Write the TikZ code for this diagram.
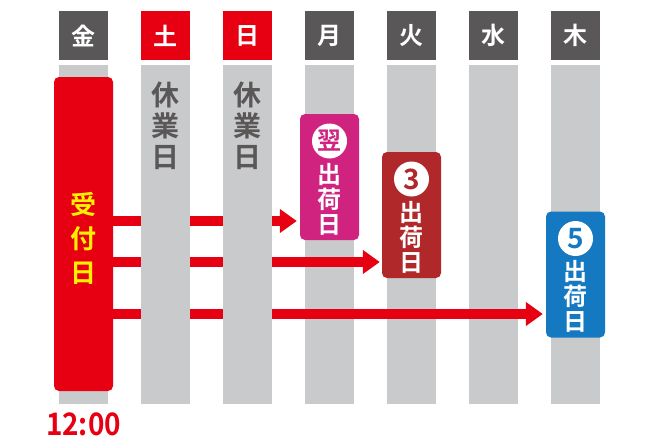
\documentclass[tikz,border=0pt]{standalone}
\usepackage{fontspec}
\setmainfont{Noto Sans CJK JP}[BoldFont={Noto Sans CJK JP Bold}]
\usetikzlibrary{positioning}
\usetikzlibrary{arrows.meta}
\definecolor{hdgray}{HTML}{595757}
\definecolor{colgray}{HTML}{C9CACB}
\definecolor{ordred}{HTML}{E60012}
\definecolor{recvyellow}{HTML}{FFF100}
\definecolor{nextmag}{HTML}{CF237F}
\definecolor{thirdred}{HTML}{B0282A}
\definecolor{fifthblue}{HTML}{1479C1}
\pgfdeclarelayer{back}
\pgfdeclarelayer{arrowlayer}
\pgfdeclarelayer{front}
\pgfsetlayers{back,arrowlayer,front,main}
\tikzset{every node/.style={inner sep=0pt},          % No padding, boxes get exact sizes
         dayhead/.style={                           % Day name squares on top
           minimum width=49pt, minimum height=49pt,
           text=white, font=\bfseries\fontsize{24}{24}\selectfont},
         daycol/.style={                            % Grey column below each day
           fill=colgray, minimum width=49pt, minimum height=339pt},
         recvbox/.style={                           % Order day box
           fill=ordred, rounded corners=5pt,
           minimum width=59pt, minimum height=314pt},
         shipbox/.style={                           % Shipping day boxes
           rounded corners=5pt, minimum width=59pt, minimum height=126pt},
         numcirc/.style={                           % White disc for the number
           circle, fill=white, minimum size=35pt},
         numtxt/.style={                            % Number inside the disc
           font=\bfseries\fontsize{28}{28}\selectfont},
         vtext/.style={                             % Text set top to bottom
           align=center, font=\bfseries\fontsize{24}{25}\selectfont},
         flow/.style={                              % Thick red arrows
           draw=ordred, line width=10pt,
           -{Triangle[length=17pt,width=23pt]}}}

\begin{document}
\begin{tikzpicture}[x=1pt, y=-1pt]
\useasboundingbox (0,0) rectangle (650,444);

% holiday columns lie over the arrows, the other ones under them
\foreach \d/\c/\l [count=\i] in {金/hdgray/back,土/ordred/front,日/ordred/front,月/hdgray/back,
                                 火/hdgray/back,水/hdgray/back,木/hdgray/back}{
  \begin{pgfonlayer}{\l}
  \node[daycol] (col\i) at ({1.5+82*\i},234.5) {};
  \end{pgfonlayer}
  \node[dayhead, fill=\c] (day\i) at ({1.5+82*\i},35.5) {\d};
}

\node[vtext, text=hdgray, font=\bfseries\fontsize{28}{31}\selectfont] (rest2) at ([yshift=-61pt]col2.north) {休\\業\\日};
\node[vtext, text=hdgray, font=\bfseries\fontsize{28}{31}\selectfont] (rest3) at ([yshift=-61pt]col3.north) {休\\業\\日};

\node[recvbox] (recv) at (83.5,234) {};
\node[vtext, text=recvyellow, font=\bfseries\fontsize{26}{34}\selectfont] (recvtxt) at ([yshift=-4pt]recv.center) {受\\付\\日};
\node[text=ordred, font=\bfseries\fontsize{31}{31}\selectfont\addfontfeatures{FakeStretch=0.9}, below=8pt of col1] (time) {12:00};

\node[shipbox, fill=nextmag] (ship1) at (329.5,177) {};
\node[numcirc, below=9.5pt of ship1.north] (num1) {};
\node[numtxt, text=nextmag, font=\bfseries\fontsize{24}{24}\selectfont] at (num1) {翌};
\node[vtext, text=white, below=4pt of num1] (shiptxt1) {出\\荷\\日};

\node[shipbox, fill=thirdred] (ship3) at (411.5,215) {};
\node[numcirc, below=9.5pt of ship3.north] (num3) {};
\node[numtxt, text=thirdred] at (num3) {3};
\node[vtext, text=white, below=4pt of num3] (shiptxt3) {出\\荷\\日};

\node[shipbox, fill=fifthblue] (ship5) at (575.5,274.5) {};
\node[numcirc, below=9.5pt of ship5.north] (num5) {};
\node[numtxt, text=fifthblue] at (num5) {5};
\node[vtext, text=white, below=4pt of num5] (shiptxt5) {出\\荷\\日};

\begin{pgfonlayer}{arrowlayer}
\draw[flow] (recv.east |- 0,221) -- ([xshift=-3pt]ship1.west |- 0,221);
\draw[flow] (recv.east |- 0,262) -- ([xshift=-2pt]ship3.west |- 0,262);
\draw[flow] (recv.east |- 0,314) -- ([xshift=-3pt]ship5.west |- 0,314);
\end{pgfonlayer}

\end{tikzpicture}
\end{document}
